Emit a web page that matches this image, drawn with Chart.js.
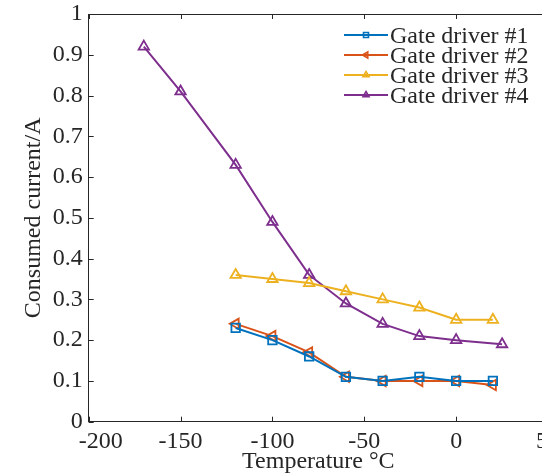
<!DOCTYPE html>
<html>
<head>
<meta charset="utf-8">
<script src="https://cdn.jsdelivr.net/npm/chart.js@4/dist/chart.umd.min.js"></script>
<style>
  html, body { margin: 0; padding: 0; background: #fff; overflow: hidden; }
  #wrap { width: 560px; height: 476px; }
</style>
</head>
<body>
<div id="wrap"><canvas id="chart" width="560" height="476"></canvas></div>
<script>
// temperatures (degC) and consumed current (A)
const tempsA = [-120, -100, -80, -60, -40, -20, 0, 20];
const driver1 = [0.23, 0.20, 0.16, 0.11, 0.10, 0.11, 0.10, 0.10];
const driver2 = [0.24, 0.21, 0.17, 0.11, 0.10, 0.10, 0.10, 0.09];
const driver3 = [0.36, 0.35, 0.34, 0.32, 0.30, 0.28, 0.25, 0.25];
const tempsB = [-170, -150, -120, -100, -80, -60, -40, -20, 0, 25];
const driver4 = [0.92, 0.81, 0.63, 0.49, 0.36, 0.29, 0.24, 0.21, 0.20, 0.19];

const labels = ["Gate driver #1", "Gate driver #2", "Gate driver #3", "Gate driver #4"];
const xTicks = [-200, -150, -100, -50, 0, 50];
const yTicks = [0, 0.1, 0.2, 0.3, 0.4, 0.5, 0.6, 0.7, 0.8, 0.9, 1];

const ink = "#262626";
const serif = "'Liberation Serif', 'Times New Roman', serif";
Chart.defaults.font.family = serif;
Chart.defaults.font.size = 24;
Chart.defaults.color = ink;

function pts(xs, ys) {
    return xs.map((x, i) => ({ x: x, y: ys[i] }));
}

function series(label, xs, ys, color, style, rot) {
    return {
        label: label,
        data: pts(xs, ys),
        showLine: true,
        borderColor: color,
        backgroundColor: color,
        borderWidth: 2,
        pointStyle: style,
        pointRotation: rot || 0,
        pointRadius: 6,
        pointBorderWidth: 1.8,
        pointBorderColor: color,
        pointBackgroundColor: "rgba(0,0,0,0)",
        tension: 0,
    };
}

// box, inward ticks and the matlab-like legend
const framePlugin = {
    id: "frame",
    afterDraw(chart) {
        const ctx = chart.ctx;
        const a = chart.chartArea;
        const xs = chart.scales.x, ys = chart.scales.y;
        ctx.save();
        ctx.strokeStyle = ink;
        ctx.lineWidth = 1;
        ctx.beginPath();
        ctx.moveTo(a.left, a.top + 0.5);
        ctx.lineTo(a.right, a.top + 0.5);
        ctx.moveTo(a.right - 0.5, a.top);
        ctx.lineTo(a.right - 0.5, a.bottom);
        const tl = 5;
        xTicks.forEach(v => {
            const px = Math.round(xs.getPixelForValue(v)) + 0.5;
            ctx.moveTo(px, a.bottom); ctx.lineTo(px, a.bottom - tl);
            ctx.moveTo(px, a.top); ctx.lineTo(px, a.top + tl);
        });
        yTicks.forEach(v => {
            const py = Math.round(ys.getPixelForValue(v)) + 0.5;
            ctx.moveTo(a.left, py); ctx.lineTo(a.left + tl, py);
            ctx.moveTo(a.right, py); ctx.lineTo(a.right - tl, py);
        });
        ctx.stroke();

        // legend
        const x0 = 344, x1 = 388, ty = 35, dy = 20;
        ctx.font = "24px " + serif;
        ctx.textBaseline = "middle";
        ctx.textAlign = "left";
        chart.data.datasets.forEach((ds, i) => {
            const y = ty + i * dy;
            ctx.strokeStyle = ds.borderColor;
            ctx.lineWidth = 2;
            ctx.beginPath();
            ctx.moveTo(x0, y);
            ctx.lineTo(x1, y);
            ctx.stroke();
            ctx.fillStyle = "rgba(0,0,0,0)";
            ctx.lineWidth = 1.6;
            Chart.helpers.drawPoint(ctx, {
                pointStyle: ds.pointStyle,
                rotation: ds.pointRotation,
                radius: 3.5,
                borderWidth: 1.6,
            }, (x0 + x1) / 2, y);
            ctx.fillStyle = ink;
            ctx.fillText(ds.label, x1 + 2, y + 2);
        });
        ctx.restore();
    }
};

new Chart(document.getElementById("chart"), {
    type: "scatter",
    data: {
        datasets: [
            series(labels[0], tempsA, driver1, "#0072BD", "rect"),
            series(labels[1], tempsA, driver2, "#D95319", "triangle", -90),
            series(labels[2], tempsA, driver3, "#EDB120", "triangle"),
            series(labels[3], tempsB, driver4, "#7E2F8E", "triangle"),
        ],
    },
    options: {
        responsive: false,
        animation: false,
        layout: { padding: 0 },
        plugins: {
            legend: { display: false },
            tooltip: { enabled: false },
        },
        scales: {
            x: {
                type: "linear",
                min: -200,
                max: 50,
                afterBuildTicks: s => { s.ticks = xTicks.map(v => ({ value: v })); },
                grid: { display: false, drawTicks: false },
                border: { display: true, color: ink, width: 1 },
                ticks: {
                    color: ink,
                    padding: 6,
                    maxRotation: 0,
                    autoSkip: false,
                    font: { family: serif, size: 24 },
                    // first label sits a bit right of its tick, as in the figure
                    callback: v => (v === -200 ? "    " : "") + String(v),
                },
                title: {
                    display: true,
                    text: "Temperature \u00B0C",
                    color: ink,
                    padding: { top: 0, bottom: 0 },
                    font: { family: serif, size: 24 },
                },
                afterFit: s => {
                    s.height = 54.3;
                    s.paddingLeft = 0;
                    s.paddingRight = 12;
                },
            },
            y: {
                type: "linear",
                min: 0,
                max: 1,
                afterBuildTicks: s => { s.ticks = yTicks.map(v => ({ value: v })); },
                grid: { display: false, drawTicks: false },
                border: { display: true, color: ink, width: 1 },
                ticks: {
                    color: ink,
                    padding: 6,
                    autoSkip: false,
                    font: { family: serif, size: 24 },
                    callback: v => (v === 0 || v === 1) ? String(v) : v.toFixed(1),
                },
                title: {
                    display: true,
                    text: "Consumed current/A",
                    color: ink,
                    padding: { top: 19, bottom: 0 },
                    font: { family: serif, size: 24 },
                },
                afterFit: s => {
                    s.width = 88.7;
                    s.paddingTop = 14;
                    s.paddingBottom = 0;
                },
            },
        },
    },
    plugins: [framePlugin],
});
</script>
</body>
</html>
